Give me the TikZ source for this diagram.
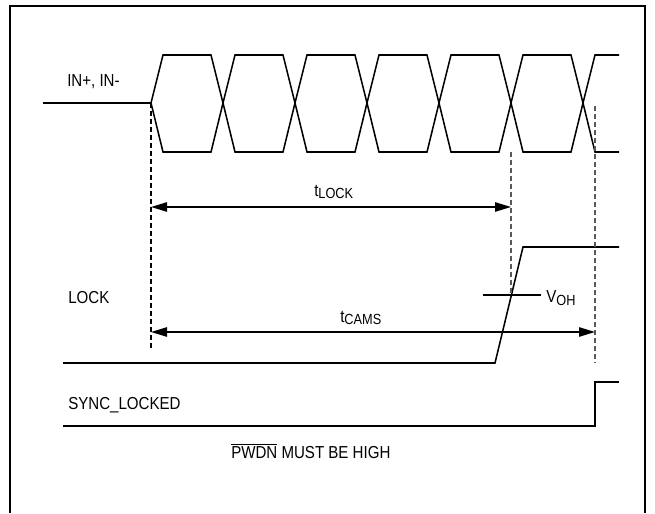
\documentclass[tikz,border=0pt]{standalone}
\usepackage{fontspec}
\setmainfont{Liberation Sans}[FakeStretch=0.87]
\usetikzlibrary{arrows.meta}

\begin{document}
\begin{tikzpicture}[x=0.75pt, y=-0.75pt,
  frame/.style={line width=1.6pt},
  signal/.style={line width=1.15pt, line join=miter},
  guide/.style={line width=0.9pt, dash pattern=on 3.5pt off 2.5pt},
  span/.style={line width=1.15pt, {Triangle[length=12pt,width=7pt]}-{Triangle[length=12pt,width=7pt]}},
  every node/.style={inner sep=0pt, anchor=base west, font=\fontsize{13}{15}\selectfont}]
  \useasboundingbox (0,0) rectangle (655,513);
  \draw[frame] (10,513) -- (10,6) -- (645,6) -- (645,513);

  % labels
  \node (in) at (67,87) {IN+, IN-};
  \node (lock) at (68,303) {LOCK};
  \node (sync) at (68,409) {SYNC\_LOCKED};
  \node (pwdn) at (231,458) {$\overline{\mbox{PWDN}}$ MUST BE HIGH};
  \node (tlock) at (314,196) {t{\fontsize{11}{12}\selectfont\raisebox{-1.5pt}{LOCK}}};
  \node (tcams) at (340,322) {t{\fontsize{11}{12}\selectfont\raisebox{-1.5pt}{CAMS}}};
  \node (voh) at (546,302) {V{\fontsize{11}{12}\selectfont\raisebox{-2.5pt}{OH}}};

  % IN+, IN-
  \draw[signal] (43,103) -- (151,103);
  \foreach \x in {151,223,295,367,439,511}
    \draw[signal] (\x,103) -- ++(12,-48) -- ++(48,0) -- ++(12,48)
                  -- ++(-12,49) -- ++(-48,0) -- cycle;
  \draw[signal] (619,55) -- (595,55) -- (583,103) -- (595,152) -- (619,152);

  % LOCK and SYNC_LOCKED
  \draw[signal] (63,363) -- (495,363) -- (523,247) -- (619,247);
  \draw[signal] (483,295) -- (541,295);
  \draw[signal] (63,426) -- (595,426) -- (595,382) -- (619,382);

  % timing guides
  \coordinate (start) at (151,103);
  \coordinate (lockend) at (511,152);
  \coordinate (camsend) at (595,106);
  \draw[guide] (start) -- (151,350);
  \draw[guide, black!65] (lockend) -- (511,295);
  \draw[guide, black!65] (camsend) -- (595,363);
  \draw[span] (151,207) -- (511,207);
  \draw[span] (151,332) -- (595,332);
\end{tikzpicture}
\end{document}
